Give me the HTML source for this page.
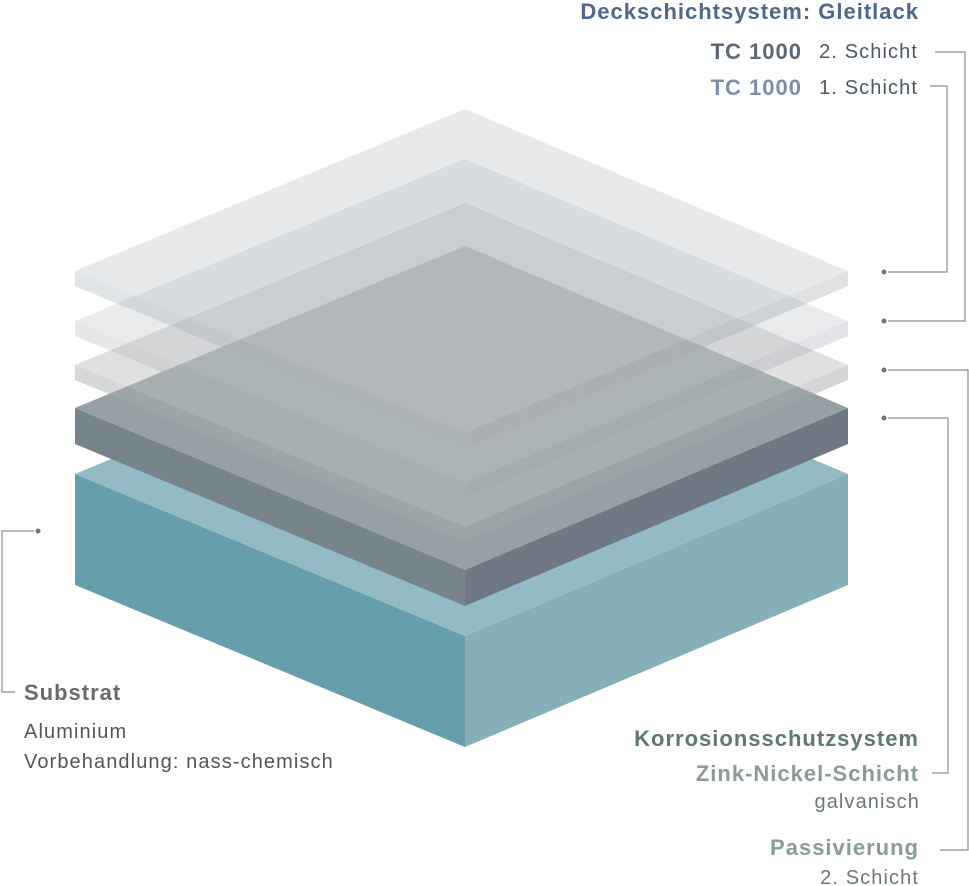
<!DOCTYPE html>
<html><head><meta charset="utf-8"><style>
html,body{margin:0;padding:0;background:#fff;width:969px;height:886px;overflow:hidden}
svg{display:block}
text{font-family:"Liberation Sans",sans-serif}
.b{font-size:22px;font-weight:bold;letter-spacing:1px}
.r{font-size:20px;letter-spacing:1.1px}
</style></head><body>
<svg width="969" height="886" viewBox="0 0 969 886">
<g id="layers"></g>
<g fill="none" stroke="#8a8f94" stroke-width="1.2">
<polyline points="930,86 947,86 947,272 888,272"/>
<polyline points="935,52 965,52 965,321 888,321"/>
<polyline points="888,370 968,370 968,850 940,850"/>
<polyline points="888,418 948,418 948,773 932,773"/>
<polyline points="34,531 2,531 2,692 15,692"/>
</g>
<g fill="#6f757a">
<circle cx="884" cy="272" r="2.5"/><circle cx="884" cy="321" r="2.5"/><circle cx="884" cy="370" r="2.5"/><circle cx="884" cy="418" r="2.5"/><circle cx="38" cy="531" r="2.5"/>
</g>
<g text-anchor="end">
<text x="919" y="19" class="b" fill="#4f6889">Deckschichtsystem: Gleitlack</text>
<text x="802" y="59" class="b" fill="#5b6878">TC 1000</text>
<text x="918" y="58" class="r" fill="#4a5866">2. Schicht</text>
<text x="802" y="95" class="b" fill="#7b8fa8">TC 1000</text>
<text x="918" y="94" class="r" fill="#4a5866">1. Schicht</text>
<text x="919" y="746" class="b" fill="#5e7a6e">Korrosionsschutzsystem</text>
<text x="919" y="781" class="b" fill="#889d93">Zink-Nickel-Schicht</text>
<text x="920" y="808" class="r" fill="#6b7a73">galvanisch</text>
<text x="919" y="855" class="b" fill="#889d93">Passivierung</text>
<text x="919" y="884" class="r" fill="#6b7a73">2. Schicht</text>
</g>
<text x="24" y="700" class="b" fill="#6a6a6a">Substrat</text>
<text x="24" y="738" class="r" fill="#555">Aluminium</text>
<text x="24" y="768" class="r" fill="#555">Vorbehandlung: nass-chemisch</text>
</svg>
<script>
const layerNames=['substrate','zinc-nickel-layer','passivation-layer','tc1000-layer1','tc1000-layer2'];
const layerTops=[474,408,365,321,271];
const layerThick=[111,36,15,15,15];
const L=75,C=465,R=848,H=162;
const styles=[
 {top:'#94bbc3',left:'#679eab',right:'#86afb8',op:1},
 {top:'#95a1a6',left:'#78848c',right:'#6e7984',op:1},
 {top:'#bcbebd',left:'#a9adac',right:'#a4a8aa',op:0.48},
 {top:'#b9c0c6',left:'#aab1b7',right:'#a2a9b0',op:0.31},
 {top:'#b9c0c6',left:'#aab1b7',right:'#a2a9b0',op:0.35}
];
const g=document.getElementById('layers');
const NS='http://www.w3.org/2000/svg';
function poly(pts,fill,op,name){
 const p=document.createElementNS(NS,'polygon');
 p.setAttribute('points',pts.map(a=>a.join(',')).join(' '));
 p.setAttribute('fill',fill);p.setAttribute('fill-opacity',op);
 
 
 g.appendChild(p);
}
layerNames.forEach((n,i)=>{
 const y=layerTops[i],t=layerThick[i],s=styles[i];
 poly([[L,y],[C,y+H],[C,y+H+t],[L,y+t]],s.left,s.op,n+'-left-face');
 poly([[C,y+H],[R,y],[R,y+t],[C,y+H+t]],s.right,s.op,n+'-right-face');
 poly([[L,y],[C,y-H],[R,y],[C,y+H]],s.top,s.op,n+'-top-face');
});
</script>
</body></html>
